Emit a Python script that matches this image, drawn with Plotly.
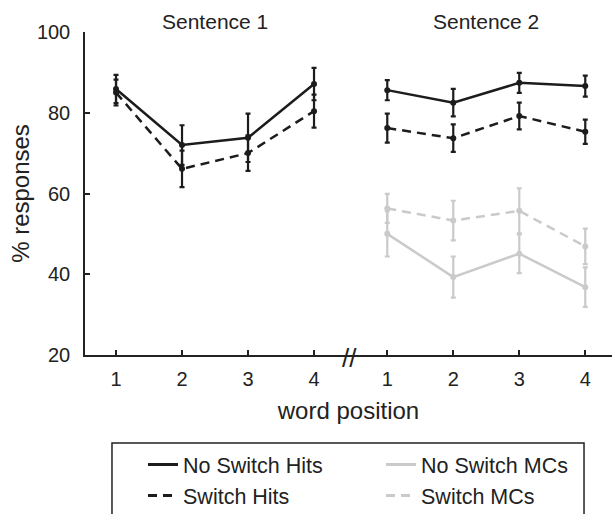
import plotly.graph_objects as go

# ---- data ----
positions = [1, 2, 3, 4]
tick_labels = ["1", "2", "3", "4"]
s2_offset = 4.11

s1_nosw_hits = [85.9, 72.0, 73.8, 87.1]
s1_nosw_hits_err = [3.5, 4.9, 6.0, 4.0]
s1_sw_hits = [85.0, 66.1, 70.0, 80.4]
s1_sw_hits_err = [3.2, 4.5, 4.4, 4.1]

s2_nosw_hits = [85.6, 82.5, 87.4, 86.6]
s2_nosw_hits_err = [2.5, 3.4, 2.5, 2.6]
s2_sw_hits = [76.2, 73.7, 79.2, 75.3]
s2_sw_hits_err = [3.6, 3.4, 3.3, 3.0]
s2_nosw_mcs = [50.0, 39.3, 45.1, 36.8]
s2_nosw_mcs_err = [5.6, 5.1, 4.8, 4.9]
s2_sw_mcs = [56.3, 53.3, 55.7, 46.9]
s2_sw_mcs_err = [3.6, 4.9, 5.6, 4.4]

series_names = ["No Switch Hits", "No Switch MCs", "Switch Hits", "Switch MCs"]

x_s1 = positions
x_s2 = [p + s2_offset for p in positions]

BLACK = "#1c1c1c"
GRAY = "#cacaca"
DASH = "9px,6px"
styles = {
    "No Switch Hits": (BLACK, "solid"),
    "No Switch MCs": (GRAY, "solid"),
    "Switch Hits": (BLACK, DASH),
    "Switch MCs": (GRAY, DASH),
}

fig = go.Figure()


def add(x, y, err, name):
    color, dash = styles[name]
    fig.add_trace(go.Scatter(
        x=x, y=y, mode="lines+markers", name=name, legendgroup=name,
        showlegend=False,
        line=dict(color=color, width=2.5, dash=dash),
        marker=dict(color=color, size=6),
        error_y=dict(type="data", array=err, visible=True, color=color,
                     thickness=2.2, width=2.5),
    ))


add(x_s1, s1_nosw_hits, s1_nosw_hits_err, "No Switch Hits")
add(x_s1, s1_sw_hits, s1_sw_hits_err, "Switch Hits")
add(x_s2, s2_nosw_mcs, s2_nosw_mcs_err, "No Switch MCs")
add(x_s2, s2_sw_mcs, s2_sw_mcs_err, "Switch MCs")
add(x_s2, s2_nosw_hits, s2_nosw_hits_err, "No Switch Hits")
add(x_s2, s2_sw_hits, s2_sw_hits_err, "Switch Hits")

# legend entries (line-only symbols, like the reference)
for name in series_names:
    color, dash = styles[name]
    fig.add_trace(go.Scatter(
        x=[None], y=[None], mode="lines", name=name, legendgroup=name,
        showlegend=True, line=dict(color=color, width=3, dash=dash),
    ))

font = dict(family="Liberation Sans, Arial, sans-serif", size=20, color="#222")

fig.update_layout(
    width=612, height=514,
    margin=dict(l=85, r=0, t=32, b=159, autoexpand=False),
    plot_bgcolor="white", paper_bgcolor="white",
    font=font,
    showlegend=True,
    legend=dict(
        orientation="h", x=1.0133, xanchor="right", y=-0.276, yanchor="top",
        borderwidth=0, bgcolor="rgba(0,0,0,0)",
        font=dict(family="Liberation Sans, Arial, sans-serif", size=21.5, color="#222"),
        entrywidth=193, entrywidthmode="pixels", traceorder="normal",
        itemwidth=30, tracegroupgap=0,
    ),
    xaxis=dict(
        range=[0.53, 8.515], showgrid=False, zeroline=False,
        showline=True, linecolor="#222", linewidth=1.5,
        ticks="inside", ticklen=5, tickcolor="#222", tickwidth=1.5,
        tickvals=x_s1 + x_s2, ticktext=tick_labels + tick_labels,
        ticklabelstandoff=5,
        title=dict(text="word position", standoff=13),
    ),
    yaxis=dict(
        range=[20, 100], showgrid=False, zeroline=False,
        showline=True, linecolor="#222", linewidth=1.5,
        ticks="inside", ticklen=5, tickcolor="#222", tickwidth=1.5,
        tickvals=[20, 40, 60, 80, 100],
        ticklabelstandoff=9,
        title=dict(text="% responses", standoff=0),
    ),
    shapes=[dict(type="rect", xref="paper", yref="paper",
                 x0=0.0512, x1=0.9469, y0=-0.2724, y1=-0.55,
                 line=dict(color="#222", width=1.5), fillcolor="rgba(0,0,0,0)")],
)

fig.add_annotation(x=sum(x_s1) / 4, y=1.034, xref="x", yref="paper",
                   text="Sentence 1", showarrow=False, yanchor="middle",
                   font=dict(size=21))
fig.add_annotation(x=sum(x_s2) / 4, y=1.034, xref="x", yref="paper",
                   text="Sentence 2", showarrow=False, yanchor="middle",
                   font=dict(size=21))
# axis break mark
fig.add_annotation(x=(x_s1[-1] + x_s2[0]) / 2 - 0.01, y=-0.008, xref="x", yref="paper",
                   text="//", showarrow=False, yanchor="middle",
                   font=dict(size=26, color="#222"))

fig.write_html("out.html")
